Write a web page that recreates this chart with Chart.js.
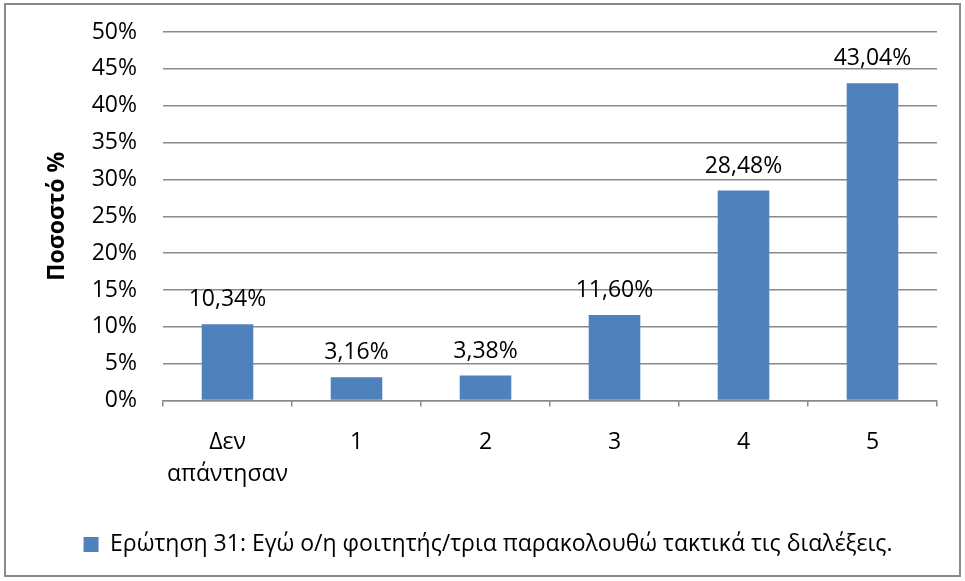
<!DOCTYPE html>
<html>
<head>
<meta charset="utf-8">
<script src="https://cdn.jsdelivr.net/npm/chart.js@4/dist/chart.umd.min.js"></script>
<style>
  html, body { margin: 0; padding: 0; background: #fff; }
  #wrap { position: absolute; left: 4px; top: 3px; width: 957px; height: 574px; border: 2px solid #8a8a8a; box-sizing: border-box; }
  #chart { display: block; }
</style>
</head>
<body>
<div id="wrap"><canvas id="chart" width="953" height="570"></canvas></div>
<script>
  var categories = [['Δεν', 'απάντησαν'], '1', '2', '3', '4', '5'];
  var values = [10.34, 3.16, 3.38, 11.60, 28.48, 43.04];
  var seriesName = 'Ερώτηση 31: Εγώ ο/η φοιτητής/τρια παρακολουθώ τακτικά τις διαλέξεις.';
  var yTitle = 'Ποσοστό %';

  var FONT = "'Open Sans', sans-serif";

  // labels over the bars, greek decimal comma
  var barLabels = {
    id: 'barLabels',
    afterDatasetsDraw: function(chart) {
      var ctx = chart.ctx;
      var meta = chart.getDatasetMeta(0);
      ctx.save();
      ctx.font = '23px ' + FONT;
      ctx.fillStyle = '#000';
      ctx.textAlign = 'center';
      ctx.textBaseline = 'bottom';
      meta.data.forEach(function(bar, i) {
        var txt = values[i].toFixed(2).replace('.', ',') + '%';
        ctx.fillText(txt, bar.x, bar.y - 13);
      });
      ctx.restore();
    }
  };

  var chart = new Chart(document.getElementById('chart'), {
    type: 'bar',
    data: {
      labels: categories,
      datasets: [{
        label: seriesName,
        data: values,
        backgroundColor: '#4f81bd',
        barPercentage: 0.4,
        categoryPercentage: 1
      }]
    },
    options: {
      responsive: false,
      animation: false,
      layout: { padding: { left: 33, right: 22, top: 27, bottom: 9 } },
      plugins: {
        tooltip: { enabled: false },
        legend: {
          position: 'bottom',
          labels: {
            font: { family: FONT, size: 23 },
            color: '#000',
            boxWidth: 15,
            boxHeight: 15,
            padding: 23
          }
        }
      },
      scales: {
        x: {
          grid: { offset: true, drawOnChartArea: false, tickLength: 6, color: '#8a8a8a', lineWidth: 1.5 },
          border: { color: '#8a8a8a', width: 1.5 },
          ticks: { font: { family: FONT, size: 23, lineHeight: 1.38 }, color: '#000', padding: 20, maxRotation: 0 }
        },
        y: {
          min: 0,
          max: 50,
          afterFit: function(s) { s.width = 124; s.paddingTop = 0; s.paddingBottom = 0; },
          title: { display: true, text: yTitle, font: { family: FONT, size: 23, weight: 'bold' }, color: '#000', padding: { top: 5, bottom: 0 } },
          grid: { drawTicks: false, color: '#8a8a8a', lineWidth: 1.5 },
          border: { display: false },
          ticks: {
            stepSize: 5,
            font: { family: FONT, size: 23 },
            color: '#000',
            padding: 26,
            callback: function(v) { return v + '%'; }
          }
        }
      }
    },
    plugins: [barLabels]
  });
</script>
</body>
</html>
